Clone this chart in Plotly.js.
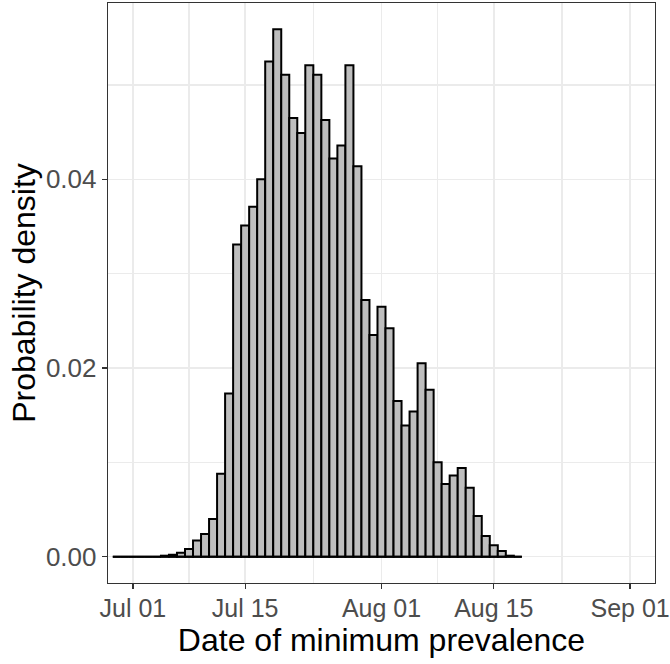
<!DOCTYPE html>
<html>
<head>
<meta charset="utf-8">
<script src="https://cdn.plot.ly/plotly-3.0.1.min.js"></script>
<style>html,body{margin:0;padding:0;background:#fff;}#chart{width:670px;height:664px;}</style>
</head>
<body>
<div id="chart"></div>
<script>
// Daily bins (bar centred on each date), probability density per day
const dates = [
  "2020-06-29","2020-06-30","2020-07-01","2020-07-02","2020-07-03","2020-07-04",
  "2020-07-05","2020-07-06","2020-07-07","2020-07-08","2020-07-09","2020-07-10",
  "2020-07-11","2020-07-12","2020-07-13","2020-07-14","2020-07-15","2020-07-16",
  "2020-07-17","2020-07-18","2020-07-19","2020-07-20","2020-07-21","2020-07-22",
  "2020-07-23","2020-07-24","2020-07-25","2020-07-26","2020-07-27","2020-07-28",
  "2020-07-29","2020-07-30","2020-07-31","2020-08-01","2020-08-02","2020-08-03",
  "2020-08-04","2020-08-05","2020-08-06","2020-08-07","2020-08-08","2020-08-09",
  "2020-08-10","2020-08-11","2020-08-12","2020-08-13","2020-08-14","2020-08-15",
  "2020-08-16","2020-08-17","2020-08-18"
];
const density = [
  0, 0, 0, 0, 0, 0,
  0.0001, 0.0002, 0.0004, 0.0008, 0.0017, 0.0024,
  0.0040, 0.0088, 0.0173, 0.0331, 0.0351, 0.0371,
  0.0400, 0.0525, 0.0559, 0.0511, 0.0465, 0.0449,
  0.0521, 0.0511, 0.0463, 0.0422, 0.0436, 0.0521,
  0.0414, 0.0272, 0.0235, 0.0265, 0.0242, 0.0165,
  0.0139, 0.0154, 0.0205, 0.0177, 0.0100, 0.0077,
  0.0086, 0.0094, 0.0073, 0.0043, 0.0022, 0.0012,
  0.0006, 0.0001, 0
];
const xTickVals = ["2020-07-01","2020-07-15","2020-08-01","2020-08-15","2020-09-01"];
const xTickText = ["Jul 01","Jul 15","Aug 01","Aug 15","Sep 01"];
const xMinorVals = ["2020-07-08","2020-07-23 12:00","2020-08-08","2020-08-23 12:00"];
const yTickVals = [0, 0.02, 0.04];
const yTickText = ["0.00","0.02","0.04"];
const yMinorVals = [0.01, 0.03, 0.05];

const DAY = 86400000;
const toMs = s => new Date(s.replace(" ", "T") + (s.length > 10 ? ":00Z" : "T00:00:00Z")).getTime();
const limLo = toMs(xTickVals[0]), limHi = toMs(xTickVals[xTickVals.length - 1]);
const pad = (limHi - limLo) * 0.05;
const yMax = Math.max(...density);

const bars = {
  type: "bar",
  x: dates,
  y: density,
  width: dates.map(() => DAY),
  marker: {color: "#BEBEBE", line: {color: "#000000", width: 2}},
  hoverinfo: "x+y",
  showlegend: false
};
// zero-height bins drawn as outline along the baseline
const baseline = {
  type: "scatter",
  mode: "lines",
  x: [toMs(dates[0]) - DAY / 2, toMs(dates[dates.length - 1]) + DAY / 2],
  y: [0, 0],
  line: {color: "#000000", width: 2},
  hoverinfo: "skip",
  showlegend: false
};

const font = "'Liberation Sans', Arial, Helvetica, sans-serif";
const layout = {
  width: 670, height: 664,
  margin: {l: 108, r: 15, t: 3, b: 81, pad: 0},
  paper_bgcolor: "#ffffff", plot_bgcolor: "#ffffff",
  font: {family: font},
  showlegend: false,
  xaxis: {
    type: "date",
    range: [limLo - pad, limHi + pad],
    tickmode: "array", tickvals: xTickVals, ticktext: xTickText,
    ticks: "outside", ticklen: 5, tickwidth: 1.3, tickcolor: "#333333",
    ticklabelstandoff: -2,
    showline: true, mirror: true, linecolor: "#333333", linewidth: 1.3,
    showgrid: true, gridcolor: "#EBEBEB", gridwidth: 1.6,
    minor: {tickmode: "array", tickvals: xMinorVals, showgrid: true, gridcolor: "#EBEBEB", gridwidth: 1.1, ticks: ""},
    zeroline: false,
    tickfont: {family: font, size: 25, color: "#4D4D4D"},
    title: {text: "Date of minimum prevalence", font: {family: font, size: 32, color: "#000000"}, standoff: 0}
  },
  yaxis: {
    range: [-0.05 * yMax, yMax * 1.05],
    tickmode: "array", tickvals: yTickVals, ticktext: yTickText,
    ticks: "outside", ticklen: 5, tickwidth: 1.3, tickcolor: "#333333",
    showline: true, mirror: true, linecolor: "#333333", linewidth: 1.3,
    showgrid: true, gridcolor: "#EBEBEB", gridwidth: 1.6,
    minor: {tickmode: "array", tickvals: yMinorVals, showgrid: true, gridcolor: "#EBEBEB", gridwidth: 1.1, ticks: ""},
    zeroline: false,
    tickfont: {family: font, size: 26, color: "#4D4D4D"},
    title: {text: "Probability density", font: {family: font, size: 32, color: "#000000"}, standoff: 0}
  }
};

Plotly.newPlot("chart", [bars, baseline], layout, {displayModeBar: false, staticPlot: true});
</script>
</body>
</html>
